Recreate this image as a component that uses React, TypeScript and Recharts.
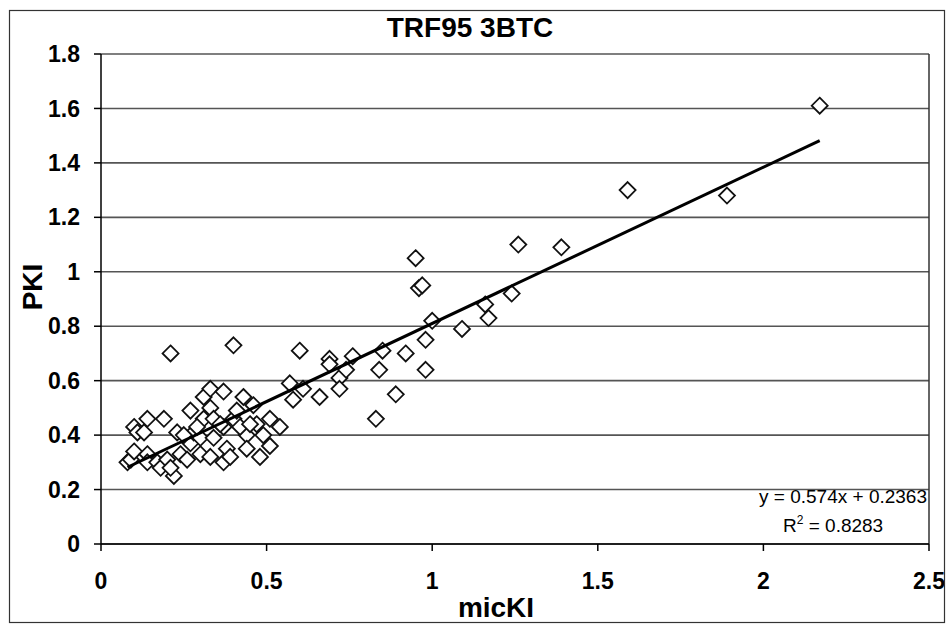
import { CartesianGrid, ReferenceLine, Scatter, ScatterChart, XAxis, YAxis } from 'recharts';

const FONT = '"Liberation Sans", Arial, sans-serif';

// micKI values (x) and PKI values (y)
const micKI = [
  0.08, 0.09, 0.1, 0.1, 0.11, 0.13, 0.14, 0.14, 0.14, 0.17, 0.18, 0.19, 0.2, 0.22, 0.21,
  0.23, 0.24, 0.26, 0.27, 0.27, 0.28, 0.3, 0.3, 0.31, 0.31, 0.33, 0.33, 0.33, 0.34, 0.34,
  0.37, 0.37, 0.38, 0.37, 0.39, 0.4, 0.41, 0.43, 0.44, 0.44, 0.46, 0.47, 0.48, 0.49, 0.51,
  0.51, 0.54, 0.29, 0.36, 0.42, 0.45, 0.25, 0.21, 0.4, 0.57, 0.58, 0.61, 0.6, 0.66, 0.69,
  0.69, 0.72, 0.72, 0.74, 0.76, 0.83, 0.84, 0.85, 0.89, 0.92, 0.95, 0.96, 0.97, 0.98, 0.98,
  1.0, 1.09, 1.16, 1.17, 1.24, 1.26, 1.39, 1.59, 1.89, 2.17,
];
const pki = [
  0.3, 0.31, 0.34, 0.43, 0.41, 0.41, 0.46, 0.33, 0.3, 0.3, 0.28, 0.46, 0.31, 0.25, 0.28,
  0.41, 0.33, 0.31, 0.37, 0.49, 0.41, 0.33, 0.39, 0.54, 0.46, 0.57, 0.5, 0.32, 0.46, 0.39,
  0.56, 0.43, 0.35, 0.3, 0.32, 0.46, 0.49, 0.54, 0.4, 0.35, 0.51, 0.44, 0.32, 0.4, 0.36,
  0.46, 0.43, 0.43, 0.44, 0.43, 0.44, 0.4, 0.7, 0.73, 0.59, 0.53, 0.57, 0.71, 0.54, 0.68,
  0.66, 0.61, 0.57, 0.64, 0.69, 0.46, 0.64, 0.71, 0.55, 0.7, 1.05, 0.94, 0.95, 0.75, 0.64,
  0.82, 0.79, 0.88, 0.83, 0.92, 1.1, 1.09, 1.3, 1.28, 1.61,
];

// linear trendline end points
const trendX = [0.08, 2.17];
const trendY = [0.282, 1.482];

const xTicks = [0, 0.5, 1, 1.5, 2, 2.5];
const yTicks = [0, 0.2, 0.4, 0.6, 0.8, 1, 1.2, 1.4, 1.6, 1.8];

const points = micKI.map((x, i) => ({ x, y: pki[i] }));
const trend = trendX.map((x, i) => ({ x, y: trendY[i] }));

function Diamond(props: any) {
  const { cx, cy } = props;
  const r = 8;
  return (
    <polygon
      points={`${cx},${cy - r} ${cx + r},${cy} ${cx},${cy + r} ${cx - r},${cy}`}
      fill="#fff"
      stroke="#111"
      strokeWidth={1.8}
    />
  );
}

const tickStyle = { fontSize: 23, fontWeight: 'bold', fill: '#000', fontFamily: FONT };

export default function App() {
  return (
    <div style={{ position: 'absolute', left: 0, top: 0, width: 947, height: 627, background: '#fff' }}>
      <ScatterChart
        width={947}
        height={627}
        margin={{ top: 54, right: 18, bottom: 10, left: 11 }}
      >
        <CartesianGrid horizontal vertical={false} stroke="#555" strokeWidth={1.6} />
        <XAxis
          type="number"
          dataKey="x"
          domain={[0, 2.5]}
          ticks={xTicks}
          height={73}
          tickSize={7}
          tickMargin={22}
          tick={tickStyle}
          axisLine={{ stroke: '#000', strokeWidth: 1.5 }}
          tickLine={{ stroke: '#000', strokeWidth: 1.5 }}
        />
        <YAxis
          type="number"
          dataKey="y"
          domain={[0, 1.8]}
          ticks={yTicks}
          width={90}
          tickSize={7}
          tickMargin={14}
          tick={tickStyle}
          axisLine={{ stroke: '#000', strokeWidth: 1.5 }}
          tickLine={{ stroke: '#000', strokeWidth: 1.5 }}
        />
        <ReferenceLine x={2.5} stroke="#333" strokeWidth={1.5} />
        <Scatter data={points} shape={Diamond} isAnimationActive={false} />
        <Scatter
          data={trend}
          line={{ stroke: '#000', strokeWidth: 3 }}
          shape={() => <g />}
          isAnimationActive={false}
        />
      </ScatterChart>
      <svg
        width={947}
        height={627}
        style={{ position: 'absolute', left: 0, top: 0, pointerEvents: 'none' }}
      >
        <rect x={9.5} y={10.5} width={935} height={612} fill="none" stroke="#333" strokeWidth={1.2} />
        <text x={470} y={37} textAnchor="middle" fontFamily={FONT} fontWeight="bold" fontSize={28}>
          TRF95 3BTC
        </text>
        <text
          transform="translate(42,287) rotate(-90)"
          textAnchor="middle"
          fontFamily={FONT}
          fontWeight="bold"
          fontSize={28}
        >
          PKI
        </text>
        <text x={496} y={617} textAnchor="middle" fontFamily={FONT} fontWeight="bold" fontSize={28}>
          micKI
        </text>
        <text x={927} y={503} textAnchor="end" fontFamily={FONT} fontSize={19}>
          y = 0.574x + 0.2363
        </text>
        <text x={783} y={532} fontFamily={FONT} fontSize={19}>
          R
          <tspan fontSize={12} dy={-8}>2</tspan>
          <tspan dy={8}> = 0.8283</tspan>
        </text>
      </svg>
    </div>
  );
}
